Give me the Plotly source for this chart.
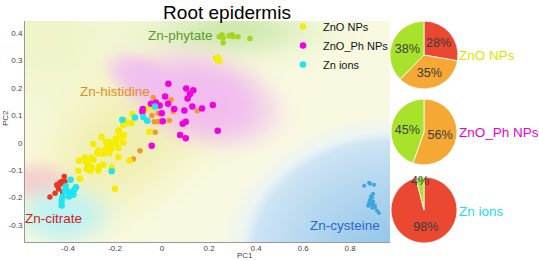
import base64, struct, zlib
import numpy as np
import plotly.graph_objects as go

# ---------------- data ----------------
zno_x = [0.230, 0.238, 0.243, -0.071, -0.044, -0.023, -0.126, -0.160, -0.148, -0.129, -0.165, -0.186,
         -0.054, -0.162, -0.179, -0.257, -0.197, -0.292, -0.238, -0.224, -0.214, -0.196, -0.196, -0.216,
         -0.235, -0.165, -0.186, -0.271, -0.260, -0.250, -0.240, -0.224, -0.186, -0.302, -0.292, -0.323,
         -0.314, -0.353, -0.320, -0.306, -0.299, -0.267, -0.250, -0.271, -0.214, -0.139, -0.356, -0.349,
         -0.200, -0.184, -0.275, -0.328]
zno_y = [0.307, 0.310, 0.299, 0.123, 0.129, 0.132, 0.105, 0.081, 0.074, 0.072, 0.066, 0.041,
         0.040, 0.027, 0.021, 0.021, 0.015, -0.005, 0.003, 0.003, -0.005, 0.005, -0.004, -0.022,
         -0.019, 0.001, -0.019, -0.028, -0.038, -0.040, -0.026, -0.038, -0.052, -0.056, -0.062, -0.068,
         -0.080, -0.066, -0.095, -0.102, -0.090, -0.086, -0.080, -0.101, -0.090, -0.065, -0.102, -0.131,
         -0.168, 0.044, -0.038, -0.054]

znoph_x = [0.027, 0.103, 0.133, 0.119, 0.109, 0.013, 0.026, -0.010, -0.047, -0.082, -0.084, -0.026,
           0.052, 0.095, 0.129, 0.170, 0.216, -0.001, 0.003, 0.101, 0.088, 0.077, 0.101, 0.237, -0.044]
znoph_y = [0.215, 0.198, 0.191, 0.178, 0.161, 0.169, 0.142, 0.136, 0.142, 0.123, 0.113, 0.147,
           0.123, 0.118, 0.132, 0.125, 0.138, 0.108, 0.078, 0.077, 0.069, 0.028, 0.016, 0.044, -0.011]

znion_x = [-0.030, -0.080, -0.115, -0.063, -0.169, -0.214, -0.389, -0.366, -0.400, -0.387, -0.377,
           -0.423, -0.396, -0.427, -0.427, -0.409, -0.413, -0.374]
znion_y = [0.132, 0.094, 0.092, 0.080, 0.084, -0.104, -0.135, -0.162, -0.178, -0.184, -0.190,
           -0.196, -0.196, -0.212, -0.229, -0.159, -0.175, -0.172]

his_x = [-0.037, -0.037, -0.016, -0.043, -0.033, -0.018, -0.009, 0.031, 0.048, 0.150, -0.029, -0.094, -0.122, 0.038]
his_y = [0.165, 0.132, 0.108, 0.099, 0.077, 0.077, 0.078, 0.081, 0.114, 0.117, 0.038, -0.029, -0.059, 0.157]

cit_x = [-0.416, -0.427, -0.434, -0.438, -0.446, -0.420, -0.440, -0.423, -0.455, -0.477, -0.413, -0.448]
cit_y = [-0.123, -0.141, -0.145, -0.153, -0.157, -0.150, -0.169, -0.180, -0.184, -0.198, -0.141, -0.153]

phy_x = [0.255, 0.243, 0.260, 0.260, 0.285, 0.298, 0.302, 0.323, 0.374]
phy_y = [0.394, 0.387, 0.383, 0.365, 0.390, 0.394, 0.387, 0.387, 0.380]

cys_x = [0.860, 0.881, 0.885, 0.902, 0.898, 0.894, 0.885, 0.881, 0.889, 0.877, 0.898, 0.906,
         0.894, 0.906, 0.915, 0.923, 0.889, 0.898]
cys_y = [-0.157, -0.146, -0.150, -0.153, -0.186, -0.201, -0.208, -0.219, -0.223, -0.230, -0.215, -0.230,
         -0.237, -0.237, -0.248, -0.256, -0.195, -0.226]

x_ticks = [-0.4, -0.2, 0, 0.2, 0.4, 0.6, 0.8]
x_tick_text = ["-0.4", "-0.2", "0", "0.2", "0.4", "0.6", "0.8"]
y_ticks = [-0.3, -0.2, -0.1, 0, 0.1, 0.2, 0.3, 0.4]
y_tick_text = ["-0.3", "-0.2", "-0.1", "0", "0.1", "0.2", "0.3", "0.4"]

pie_names = ["ZnO NPs", "ZnO_Ph NPs", "Zn ions"]
pie1_labels = ["Zn-citrate", "Zn-histidine", "Zn-phytate"]
pie1_values = [28, 35, 38]
pie2_labels = ["Zn-histidine", "Zn-phytate"]
pie2_values = [56, 45]
pie3_labels = ["Zn-citrate", "Zn-phytate"]
pie3_values = [98, 4]

# ---------------- geometry / styles ----------------
W, H = 539, 260
XR = [-0.583, 0.97]
YR = [-0.362, 0.444]
PX0, PX1, PY0, PY1 = 25, 390, 21, 242   # plot area in pixels (top/bottom y from top)
FONT = "Liberation Sans, Arial"

C_YEL = "#f5ec00"
C_MAG = "#f000e0"
C_CYA = "#20e4f0"
C_HIS = "#ef9a2c"
C_CIT = "#e23a22"
C_PHY = "#a6d420"
C_CYS = "#3aa6dc"
PIE_COL = {"Zn-citrate": "#ea4830", "Zn-histidine": "#f5a833", "Zn-phytate": "#a8e22a"}

# ---------------- background density image ----------------
nx, ny = PX1 - PX0, PY1 - PY0
gx = np.linspace(XR[0], XR[1], nx)
gy = np.linspace(YR[1], YR[0], ny)  # top row first
X, Y = np.meshgrid(gx, gy)
img = np.zeros((ny, nx, 3)) + np.array([250, 250, 226], float)


def blend(col, w):
    global img
    w = np.clip(w, 0, 1)[..., None]
    img = img * (1 - w) + np.array(col, float) * w


def blob(cx, cy, sx, sy, ang=0.0, p=2.0):
    a = np.deg2rad(ang)
    dx, dy = X - cx, Y - cy
    u = dx * np.cos(a) + dy * np.sin(a)
    v = -dx * np.sin(a) + dy * np.cos(a)
    r2 = (u / sx) ** 2 + (v / sy) ** 2
    return np.exp(-r2 ** (p / 2))


blend((236, 242, 190), 0.7 * blob(-0.50, 0.38, 0.35, 0.25))
blend((238, 236, 160), 0.8 * blob(-0.22, -0.02, 0.30, 0.20, ang=35))
blend((238, 236, 170), 0.5 * blob(0.05, 0.05, 0.30, 0.15, ang=35))
blend((204, 232, 172), 0.95 * blob(0.30, 0.41, 0.32, 0.09))
blend((241, 186, 241), 0.95 * blob(0.18, 0.16, 0.30, 0.155, ang=-12, p=4))
blend((241, 190, 241), 0.9 * blob(-0.08, 0.235, 0.15, 0.075, ang=-20, p=4))
blend((246, 203, 203), 0.9 * blob(-0.53, -0.145, 0.13, 0.065, p=3))
blend((188, 242, 245), 0.95 * blob(-0.42, -0.265, 0.18, 0.10, p=3))
rb = np.sqrt(((X - 1.0) / 0.66) ** 2 + ((Y + 0.40) / 0.44) ** 2)
blend((230, 242, 250), 0.9 * np.clip((1.15 - rb) / 0.2, 0, 1))
wb = np.clip((1.0 - rb) / 0.08, 0, 1)
blend((215, 233, 246), 0.95 * wb)
blend((140, 195, 232), 0.95 * np.clip(1.0 - rb, 0, 1) ** 0.8 * wb)
img = np.clip(img, 0, 255).astype(np.uint8)


def to_png(arr):
    h, w, _ = arr.shape
    raw = b"".join(b"\x00" + arr[i].tobytes() for i in range(h))

    def chunk(t, d):
        c = struct.pack(">I", len(d)) + t + d
        return c + struct.pack(">I", zlib.crc32(t + d) & 0xffffffff)

    return (b"\x89PNG\r\n\x1a\n" + chunk(b"IHDR", struct.pack(">IIBBBBB", w, h, 8, 2, 0, 0, 0))
            + chunk(b"IDAT", zlib.compress(raw, 9)) + chunk(b"IEND", b""))


bg_src = "data:image/png;base64," + base64.b64encode(to_png(img)).decode()

# ---------------- figure ----------------
fig = go.Figure()

ref_sets = [(his_x, his_y, C_HIS, 5.5), (cit_x, cit_y, C_CIT, 5.5), (phy_x, phy_y, C_PHY, 5.5),
            (cys_x, cys_y, C_CYS, 4)]
for xs, ys, c, s in ref_sets:
    fig.add_trace(go.Scatter(x=xs, y=ys, mode="markers", showlegend=False, hoverinfo="skip",
                             marker=dict(color=c, size=s, line=dict(width=0))))

for xs, ys, c, name in [(zno_x, zno_y, C_YEL, pie_names[0]), (znoph_x, znoph_y, C_MAG, pie_names[1]),
                        (znion_x, znion_y, C_CYA, pie_names[2])]:
    fig.add_trace(go.Scatter(x=xs, y=ys, mode="markers", name=name,
                             marker=dict(color=c, size=6.5, line=dict(width=0))))

pw = 1.0 / W
ph = 1.0 / H
pie_specs = [(pie1_labels, pie1_values, 21, 89), (pie2_labels, pie2_values, 99, 165),
             (pie3_labels, pie3_values, 177, 243)]
for labs, vals, top, bot in pie_specs:
    fig.add_trace(go.Pie(labels=labs, values=vals, sort=False, direction="clockwise", rotation=0,
                         text=[f"{v}%" for v in vals], textinfo="text", textposition="inside",
                         insidetextorientation="horizontal",
                         textfont=dict(color="#3c3c3c", size=13, family=FONT),
                         marker=dict(colors=[PIE_COL[l] for l in labs], line=dict(color="white", width=0.8)),
                         domain=dict(x=[390 * pw, 458 * pw], y=[1 - bot * ph, 1 - top * ph]),
                         showlegend=False, hoverinfo="skip"))

# pie side labels
for name, c, yc in [(pie_names[0], "#e6df00", 55), (pie_names[1], "#e800d8", 132), (pie_names[2], "#22dcee", 211)]:
    fig.add_annotation(text=name, xref="paper", yref="paper", x=457 * pw, y=1 - yc * ph,
                       xanchor="left", yanchor="middle", showarrow=False,
                       font=dict(size=13.5, color=c, family=FONT))

# cluster labels
for txt, c, x, y, xa in [("Zn-phytate", "#5b9a2c", 0.08, 0.392, "center"),
                         ("Zn-histidine", "#e08e20", -0.20, 0.186, "center"),
                         ("Zn-citrate", "#d01e1a", -0.46, -0.275, "center"),
                         ("Zn-cysteine", "#2a68c6", 0.935, -0.300, "right")]:
    fig.add_annotation(text=txt, x=x, y=y, xref="x", yref="y", xanchor=xa, yanchor="middle",
                       showarrow=False, font=dict(size=13.5, color=c, family=FONT))

# axis titles
fig.add_annotation(text="PC1", xref="paper", yref="paper", x=245 * pw, y=1 - 255 * ph,
                   xanchor="center", yanchor="middle", showarrow=False, font=dict(size=8, color="#444"))
fig.add_annotation(text="PC2", xref="paper", yref="paper", x=5 * pw, y=1 - 118 * ph, textangle=-90,
                   xanchor="center", yanchor="middle", showarrow=False, font=dict(size=8, color="#444"))

# light box behind the legend
fig.add_shape(type="rect", xref="paper", yref="paper", x0=305 * pw, x1=390 * pw,
              y0=1 - 63 * ph, y1=1 - 21 * ph, line=dict(width=0),
              fillcolor="rgba(255,255,255,0.6)", layer="below")

fig.add_layout_image(source=bg_src, xref="x", yref="y", x=XR[0], y=YR[1],
                     sizex=XR[1] - XR[0], sizey=YR[1] - YR[0], sizing="stretch", layer="below")

fig.update_layout(
    width=W, height=H, margin=dict(l=0, r=0, t=0, b=0),
    paper_bgcolor="white", plot_bgcolor="white",
    font=dict(family=FONT, color="#333"),
    uniformtext=dict(minsize=12, mode="show"),
    title=dict(text="Root epidermis", x=227 * pw, xanchor="center", y=1 - 12 * ph, yanchor="middle",
               font=dict(size=19, color="black")),
    legend=dict(x=283 * pw, y=1 - 12 * ph, xanchor="left", yanchor="top",
                bgcolor="rgba(0,0,0,0)", font=dict(size=11, color="#111"),
                itemwidth=30, tracegroupgap=0),
    xaxis=dict(domain=[PX0 * pw, PX1 * pw], range=XR, tickvals=x_ticks, ticktext=x_tick_text,
               showgrid=False, zeroline=False, showline=True, linecolor="#999", linewidth=1,
               ticks="", ticklabelstandoff=-2, tickfont=dict(size=8, color="#444")),
    yaxis=dict(domain=[1 - PY1 * ph, 1 - PY0 * ph], range=YR, tickvals=y_ticks, ticktext=y_tick_text,
               showgrid=False, zeroline=False, showline=True, linecolor="#999", linewidth=1,
               ticks="", tickfont=dict(size=8, color="#444")),
)

fig.write_html("out.html", config={"displayModeBar": False},
               post_script="document.body.style.margin='0';")
